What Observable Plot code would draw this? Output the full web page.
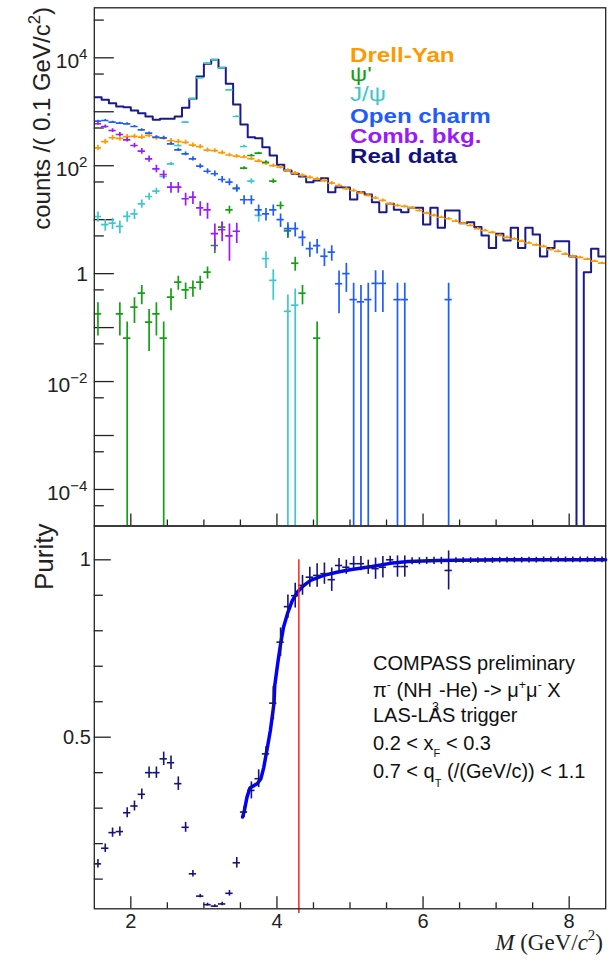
<!DOCTYPE html>
<html><head><meta charset="utf-8">
<script src="https://cdn.jsdelivr.net/npm/d3@7"></script>
<script src="https://cdn.jsdelivr.net/npm/@observablehq/plot@0.6"></script>
<style>
body{margin:0;background:#fff;}
#wrap{position:relative;width:613px;height:962px;overflow:hidden;background:#fff;}
#wrap svg{position:absolute;left:0;overflow:visible;}
</style></head><body><div id="wrap"></div>
<script>
// ---------------- DATA ----------------
const binWidth = 0.1; // GeV/c^2
const massBins = [1.55,1.65,1.75,1.85,1.95,2.05,2.15,2.25,2.35,2.45,2.55,2.65,2.75,2.85,2.95,3.05,3.15,3.25,3.35,3.45,
  3.55,3.65,3.75,3.85,3.95,4.05,4.15,4.25,4.35,4.45,4.55,4.65,4.75,4.85,4.95,5.05,5.15,5.25,5.35,5.45,
  5.55,5.65,5.75,5.85,5.95,6.05,6.15,6.25,6.35,6.45,6.55,6.65,6.75,6.85,6.95,7.05,7.15,7.25,7.35,7.45,
  7.55,7.65,7.75,7.85,7.95,8.05,8.15,8.25,8.35,8.45];

const realData = [1862,1667,1442,1251,1216,1055,940,817,709,741,741,817,1183,1738,4500,7740,9180,6530,3300,1364,
  580,338,324,220,155,104,81.5,70.8,63,49.5,53.2,58.7,32.3,40,39.6,23.7,32.3,29.3,21.1,13.8,
  19.7,15.2,13.8,16.6,16.6,8.1,16.6,7.1,14.8,14.8,8.6,9.0,7.3,5.1,3.0,5.5,4.1,7.1,3.0,7.1,
  5.3,2.08,3.0,4.0,4.0,2.08,0,1.06,2.9,2.08];

const drellYan = [215,280,330,320,345,350,340,365,330,325,290,280,270,240,225,195,190,175,158,150,
  145,135,122,110,100,94,82,73,66,61,57,53,47.5,43,37.5,34.7,31.2,28.1,25.2,22.7,
  19.7,18.3,17.6,16.6,14.8,13.2,12.0,11.1,10.4,9.4,8.6,7.8,6.8,6.3,5.8,5.1,4.7,4.4,4.0,3.7,
  3.4,3.2,2.8,2.6,2.3,2.1,2.0,1.85,1.7,1.56];
const drellYanErr = [25,30,35,33,35,35,34,36,33,32,29,28,26,23,21,18,17,15,13,12,
  11,10,9,8,7.5,7,6,5.5,5,4.5,4.2,3.9,3.4,3.0,2.6,2.3,2.0,1.8,1.6,1.4,
  1.2,1.1,1.0,0.95,0.85,0.75,0.68,0.62,0.58,0.52,0.47,0.43,0.38,0.35,0.32,0.28,0.26,0.24,0.22,0.2,
  0.19,0.18,0.16,0.15,0.13,0.12,0.11,0.1,0.095,0.09];

const psiPrime = [0.18,null,null,0.18,0.0637,0.239,0.434,0.126,0.18,0.0637,0.366,0.694,0.502,0.547,0.694,1.063,3.32,7.26,15.2,37.4,
  90,154.7,170.6,116,51.6,18.3,6.2,1.56,0.434,null,0.0637];
const psiPrimeErr = [0.11,null,null,0.11,0.0637,0.12,0.17,0.09,0.11,0.0637,0.16,0.2,0.17,0.18,0.2,0.27,0.95,1.7,2.5,4,
  6,8,8,7,5,3,1.7,0.45,0.17,null,0.0637];

const jpsi = [11.45,8.1,8.6,7.5,11.5,12.85,19.7,26.9,33.7,63.1,108.5,237,640,1738,4260,7940,9180,6530,2550,817,
  227,51.6,12,1.9,0.75,null,0.20,0.26];
const jpsiErr = [2.5,2,2,2,2.5,2.8,3.5,4,4.5,6,8,12,20,35,55,75,80,70,40,22,
  12,6,3,0.65,0.43,null,0.2,0.26];

const openCharm = [668,689,640,614,598,533,463,401,338,329,255,197,166,134,98,79,71,55.5,49.5,38.3,
  23.4,23.4,15.2,12.8,15.2,10,6.8,6.8,4.7,2.9,3.3,2.1,2.5,0.65,1.0,0.33,0.30,0.33,0.66,0.66,
  null,0.33,0.33,null,null,null,null,null,0.33];
const openCharmErr = [30,30,28,27,26,24,22,20,18,18,16,14,13,12,10,9,8.5,7.5,7,6,
  4.5,4.5,3.6,3.3,3.6,2.8,2.0,2.0,1.5,0.9,1.0,0.75,0.8,0.47,0.55,0.33,0.30,0.33,0.47,0.47,
  null,0.33,0.33,null,null,null,null,null,0.33];

const combBkg = [600,533,449,379,302,237,186,134,87.7,68.8,40,40,24.4,26.1,16.6,15.2,5.5,6.5,5.0,6.1];
const combBkgErr = [40,38,35,32,28,25,22,18,14,12,9,9,6.5,7,5,5,2.8,2.6,3.3,2.5];

const purity = [0.143,0.187,0.231,0.234,0.287,0.306,0.339,0.400,0.400,0.439,0.428,0.369,0.246,0.115,0.052,0.028,0.024,0.030,0.060,0.146,
  0.289,0.350,0.383,0.453,0.596,0.768,0.868,0.899,0.928,0.951,0.956,0.961,0.944,0.984,0.979,0.989,0.989,0.979,0.975,0.979,
  1.0,0.981,0.981,0.996,0.996,0.997,0.997,0.997,0.970,0.998,0.998,0.998,0.998,0.998,0.998,0.999,0.999,0.999,0.999,0.999,
  0.999,1.0,1.0,1.0,1.0,1.0,1.0,1.0,1.0,1.0];
const purityErr = [0.012,0.012,0.013,0.013,0.014,0.014,0.015,0.016,0.016,0.019,0.019,0.019,0.014,0.009,0.005,0.004,0.004,0.005,0.008,0.015,
  0.015,0.024,0.025,0.02,0.047,0.04,0.033,0.035,0.028,0.028,0.033,0.03,0.033,0.02,0.02,0.02,0.02,0.02,0.03,0.03,
  0.01,0.03,0.03,0.01,0.01,0.01,0.01,0.01,0.055,0.008,0.008,0.008,0.008,0.008,0.008,0.008,0.008,0.008,0.008,0.008,
  0.008,0.008,0.008,0.008,0.008,0.008,0.008,0.008,0.008,0.008];

const fitMass   = [3.53,3.55,3.59,3.63,3.73,3.78,3.82,3.87,3.91,3.96,3.97,4.01,4.05,4.09,4.15,4.21,4.28,4.37,4.46,4.64,4.82,5.0,5.3,5.55,5.8,6.2,7.0,8.5];
const fitPurity = [0.275,0.289,0.331,0.357,0.369,0.383,0.415,0.472,0.519,0.596,0.646,0.707,0.763,0.810,0.852,0.885,0.909,0.928,0.942,0.956,0.965,0.972,0.981,0.990,0.995,0.998,1.0,1.0];

const massCut = [4.3];

const legendLabels = ["Drell-Yan", "\u03C8'", "J/\u03C8", "Open charm", "Comb. bkg.", "Real data"];
const logTickExponents = [4, 2, 0, -2, -4];
const decadeTicks = [1e-4,1e-3,1e-2,1e-1,1,10,100,1e3,1e4];
const halfDecadeTicks = [5e-5,5e-4,5e-3,5e-2,0.5,5,50,500,5e3,5e4];
const xMajorTicks = [2,4,6,8];
const xMinorTicks = [2.5,3,3.5,4.5,5,5.5,6.5,7,7.5];
const purityMajorTicks = [0.5,1];
const purityMinorTicks = [0.1,0.2,0.3,0.4,0.6,0.7,0.8,0.9];

// ---------------- STYLE ----------------
const FONT = '"Liberation Sans", Arial, Helvetica, sans-serif';
const SERIF = '"Liberation Serif", "Times New Roman", serif';
const C = {dy:"#ff9900", psi2:"#14a014", jpsi:"#3cc8cc", charm:"#1f5cff", comb:"#9a1aff", real:"#12127f",
           hist:"#1a1a8c", pur:"#14147a", fit:"#0000ff", cut:"#ff2020", axis:"#222"};
const FLOOR = 1e-9;

function crossRows(vals, errs) {
  const rows = [];
  vals.forEach((v, i) => {
    if (v == null) return;
    const e = errs[i] ?? 0;
    rows.push({m: massBins[i], xl: massBins[i] - binWidth/2, xr: massBins[i] + binWidth/2,
               v, lo: v - e > 0 ? v - e : FLOOR, hi: v + e});
  });
  return rows;
}
function crosses(rows, color, sw, clip = true) {
  return [
    Plot.ruleY(rows, {y: "v", x1: "xl", x2: "xr", stroke: color, strokeWidth: sw, clip}),
    Plot.ruleX(rows, {x: "m", y1: "lo", y2: "hi", stroke: color, strokeWidth: sw, clip})
  ];
}
const histPts = [];
realData.forEach((v, i) => {
  const y = v > 0 ? v : FLOOR;
  histPts.push({x: massBins[i] - binWidth/2, y}, {x: massBins[i] + binWidth/2, y});
});

const W = 613;
const wrap = document.getElementById("wrap");

// ---------------- TOP PANEL ----------------
const topPlot = Plot.plot({
  width: W, height: 526,
  marginLeft: 93.8, marginRight: 7.8, marginTop: 7.3, marginBottom: 0.5,
  style: {fontFamily: FONT, background: "transparent", overflow: "visible"},
  x: {domain: [1.5, 8.5]},
  y: {type: "log", domain: [2.104e-5, 8.446e4]},
  marks: [
    Plot.axisY({ticks: decadeTicks, tickSize: 20, dx: 20, tickFormat: () => "", label: null, color: C.axis, strokeWidth: 1.3}),
    Plot.axisY({ticks: halfDecadeTicks, tickSize: 10, dx: 10, tickFormat: () => "", label: null, color: C.axis, strokeWidth: 1.3}),
    Plot.axisX({ticks: xMajorTicks, tickSize: 12, dy: -12, tickFormat: () => "", label: null, color: C.axis, strokeWidth: 1.3}),
    Plot.axisX({ticks: xMinorTicks, tickSize: 6, dy: -6, tickFormat: () => "", label: null, color: C.axis, strokeWidth: 1.3}),
    Plot.line(histPts, {x: "x", y: "y", stroke: C.hist, strokeWidth: 2, clip: true}),
    ...crosses(crossRows(drellYan, drellYanErr), C.dy, 1.7),
    ...crosses(crossRows(psiPrime, psiPrimeErr), C.psi2, 1.7),
    ...crosses(crossRows(jpsi, jpsiErr), C.jpsi, 1.7),
    ...crosses(crossRows(openCharm, openCharmErr), C.charm, 1.7),
    ...crosses(crossRows(combBkg, combBkgErr), C.comb, 1.7),
    Plot.frame({stroke: C.axis, strokeWidth: 1.3})
  ]
});
topPlot.style.top = "0px";
wrap.appendChild(topPlot);

// ---------------- BOTTOM PANEL ----------------
const bottomPlot = Plot.plot({
  width: W, height: 437,
  marginLeft: 93.8, marginRight: 7.8, marginTop: 0.5, marginBottom: 53.7,
  style: {fontFamily: FONT, background: "transparent", overflow: "visible", color: C.axis},
  x: {domain: [1.5, 8.5]},
  y: {domain: [0.0163, 1.0953]},
  marks: [
    Plot.axisY({ticks: purityMajorTicks, tickSize: 17, dx: 17, tickFormat: () => "", label: null, color: C.axis, strokeWidth: 1.3}),
    Plot.axisY({ticks: purityMinorTicks, tickSize: 9, dx: 9, tickFormat: () => "", label: null, color: C.axis, strokeWidth: 1.3}),
    Plot.axisY({ticks: purityMajorTicks, tickSize: 0, tickPadding: 3.5, fontSize: 20, tickFormat: d => d === 1 ? "1" : "0.5", label: null, color: C.axis}),
    Plot.axisX({ticks: xMajorTicks, tickSize: 12, dy: -12, tickFormat: () => "", label: null, color: C.axis, strokeWidth: 1.3}),
    Plot.axisX({ticks: xMinorTicks, tickSize: 6, dy: -6, tickFormat: () => "", label: null, color: C.axis, strokeWidth: 1.3}),
    Plot.axisX({ticks: xMajorTicks, tickSize: 0, tickPadding: 5, fontSize: 20, tickFormat: d => String(d), label: null, color: C.axis}),
    Plot.line(fitMass.map((m, i) => ({m, p: fitPurity[i]})), {x: "m", y: "p", stroke: C.fit, strokeWidth: 3.5}),
    ...crosses(crossRows(purity, purityErr), C.pur, 1.6, false),
    Plot.ruleX(massCut, {x: d => d, y1: 1.0, y2: 0.003, stroke: C.cut, strokeWidth: 1.5}),
    Plot.frame({stroke: C.axis, strokeWidth: 1.3})
  ]
});
bottomPlot.style.top = "525px";
wrap.appendChild(bottomPlot);

// ---------------- TEXT ----------------
function richText(parent, parts, o) {
  const size = o.size;
  const t = parent.append("text")
    .attr("font-family", o.family || FONT).attr("font-size", size)
    .attr("font-weight", o.weight || "normal").attr("fill", o.fill || "#111")
    .attr("text-anchor", o.anchor || "start");
  if (o.transform) t.attr("transform", o.transform); else t.attr("x", o.x).attr("y", o.y);
  let shift = 0;
  for (const p of parts) {
    const [str, kind, amount] = p;
    const s = t.append("tspan").text(str);
    let target = 0;
    if (kind === "sup") { target = -(amount ?? 0.42) * size; s.attr("font-size", size * (o.small || 0.68)); }
    if (kind === "sub") { target = (amount ?? 0.3) * size; s.attr("font-size", size * (o.small || 0.6)); }
    if (kind === "it") s.attr("font-style", "italic");
    if (target - shift !== 0) s.attr("dy", target - shift);
    shift = target;
  }
  return t;
}

const sTop = d3.select(topPlot);
const yTop = topPlot.scale("y");
logTickExponents.forEach(k => {
  const py = yTop.apply(Math.pow(10, k));
  if (k === 0) {
    richText(sTop, [["1"]], {x: 88, y: py + 7.5, size: 21, anchor: "end", fill: C.axis});
  } else {
    richText(sTop, [["10"], [k < 0 ? "\u2212" + (-k) : String(k), "sup", 0.45]],
      {x: 87.5, y: py + 11, size: 21, anchor: "end", fill: C.axis, small: 0.72});
  }
});
richText(sTop, [["counts /( 0.1 GeV/c"], ["2", "sup", 0.4], [")"]],
  {transform: "translate(50,7) rotate(-90)", size: 24, anchor: "end", fill: C.axis, small: 0.7});
const legendColors = [C.dy, C.psi2, C.jpsi, C.charm, C.comb, C.real];
const legendBase = [61.7, 80.5, 100.5, 123.3, 143.3, 163.3];
legendLabels.forEach((lab, i) => {
  const greek = i === 1 || i === 2;
  richText(sTop, [[lab]], {transform: `translate(350,${legendBase[i]}) scale(1.15,1)`,
    size: 21, weight: greek ? "normal" : "bold", fill: legendColors[i]});
});

const sBot = d3.select(bottomPlot);
richText(sBot, [["Purity"]], {transform: "translate(53,-1.5) rotate(-90)", size: 26, anchor: "end", fill: C.axis});
richText(sBot, [["M", "it"], [" (GeV/"], ["c", "it"], ["2", "sup", 0.42], [")"]],
  {x: 603, y: 425, size: 23, family: SERIF, anchor: "end", fill: C.axis, small: 0.65});
const ax = 373;
richText(sBot, [["COMPASS preliminary"]], {x: ax, y: 145, size: 20});
richText(sBot, [["\u03C0"], ["-", "sup", 0.4], [" (NH"], ["3", "sub", 0.72], ["-He) -> \u03BC"], ["+", "sup", 0.4], ["\u03BC"], ["-", "sup", 0.4], [" X"]],
  {x: ax, y: 171.7, size: 20, small: 0.62});
richText(sBot, [["LAS-LAS trigger"]], {x: ax, y: 196.7, size: 20});
richText(sBot, [["0.2 < x"], ["F", "sub", 0.33], [" < 0.3"]], {x: ax, y: 225, size: 20, small: 0.55});
richText(sBot, [["0.7 < q"], ["T", "sub", 0.42], [" (/(GeV/c)) < 1.1"]], {x: ax, y: 253.3, size: 20, small: 0.55});
</script>
</body></html>
